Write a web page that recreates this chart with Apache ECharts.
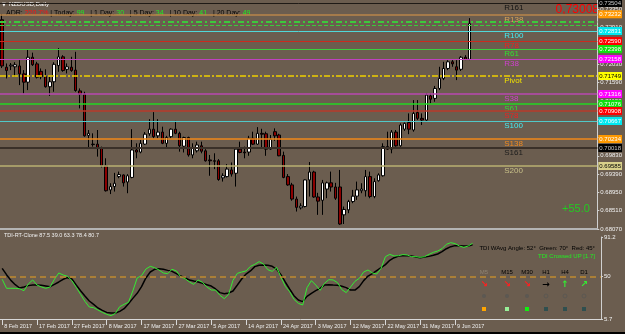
<!DOCTYPE html>
<html><head><meta charset="utf-8">
<script src="https://cdn.jsdelivr.net/npm/echarts@6/dist/echarts.min.js"></script>
<style>html,body{margin:0;padding:0;background:#6b5d4f;}#c{width:625px;height:334px;}</style>
</head><body><div id="c"></div>
<script>
// ---------- data ----------
const dateLabels = ['8 Feb 2017','17 Feb 2017','27 Feb 2017','8 Mar 2017','17 Mar 2017','27 Mar 2017','5 Apr 2017','14 Apr 2017','24 Apr 2017','3 May 2017','12 May 2017','22 May 2017','31 May 2017','9 Jun 2017'];
const opens = [0.7310,0.7196,0.7199,0.7197,0.7199,0.7180,0.7160,0.7220,0.7204,0.7186,
 0.7173,0.7149,0.7161,0.7200,0.7221,0.7191,0.7196,0.7189,0.7139,0.7131,
 0.7032,0.7011,0.7011,0.7003,0.6959,0.6901,0.6909,0.6933,0.6937,0.6920,
 0.6931,0.6997,0.6992,0.7011,0.7036,0.7047,0.7031,0.7040,0.7013,0.7029,
 0.7047,0.7037,0.7006,0.7027,0.6985,0.6995,0.7007,0.6995,0.6973,0.6971,
 0.6971,0.6930,0.6933,0.6949,0.6941,0.6999,0.6992,0.6992,0.7025,0.7011,
 0.7037,0.7036,0.6999,0.7041,0.7033,0.6984,0.6933,0.6913,0.6879,0.6858,
 0.6861,0.6925,0.6944,0.6884,0.6876,0.6903,0.6918,0.6908,0.6908,0.6841,
 0.6853,0.6873,0.6886,0.6899,0.6899,0.6933,0.6885,0.6923,0.6935,0.7005,
 0.6999,0.7040,0.7007,0.7047,0.7063,0.7045,0.7087,0.7073,0.7069,0.7127,
 0.7121,0.7145,0.7169,0.7193,0.7209,0.7197,0.7191,0.7220,0.7215];
const highs = [0.7324,0.7205,0.7206,0.7208,0.7213,0.7189,0.7239,0.7231,0.7209,0.7193,
 0.7191,0.7173,0.7208,0.7242,0.7225,0.7205,0.7221,0.7233,0.7145,0.7137,
 0.7045,0.7037,0.7045,0.7005,0.6977,0.6917,0.6942,0.6945,0.6938,0.6939,
 0.7047,0.7013,0.7021,0.7040,0.7071,0.7088,0.7071,0.7053,0.7031,0.7049,
 0.7067,0.7041,0.7029,0.7029,0.7013,0.7017,0.7017,0.6999,0.6985,0.6989,
 0.6975,0.6941,0.6963,0.6967,0.7001,0.7017,0.7005,0.7031,0.7041,0.7052,
 0.7048,0.7041,0.7033,0.7049,0.7036,0.6993,0.6939,0.6918,0.6885,0.6869,
 0.6926,0.6968,0.6947,0.6894,0.6925,0.6921,0.6945,0.6918,0.6949,0.6861,
 0.6877,0.6901,0.6921,0.6917,0.6949,0.6945,0.6929,0.6941,0.7013,0.7041,
 0.7045,0.7045,0.7061,0.7063,0.7085,0.7117,0.7117,0.7085,0.7134,0.7133,
 0.7151,0.7197,0.7209,0.7213,0.7215,0.7213,0.7223,0.7225,0.7314];
const lows = [0.7194,0.7169,0.7189,0.7173,0.7153,0.7133,0.7141,0.7199,0.7169,0.7167,
 0.7147,0.7127,0.7137,0.7185,0.7185,0.7181,0.7185,0.7137,0.7097,0.7029,
 0.7001,0.7005,0.6981,0.6955,0.6897,0.6891,0.6897,0.6929,0.6909,0.6893,
 0.6929,0.6977,0.6989,0.7009,0.7031,0.7025,0.7025,0.7011,0.7001,0.7025,
 0.7035,0.6993,0.6991,0.6981,0.6977,0.6991,0.6989,0.6969,0.6935,0.6951,
 0.6923,0.6921,0.6931,0.6933,0.6909,0.6989,0.6977,0.6983,0.7009,0.7009,
 0.7001,0.6983,0.6997,0.7019,0.6982,0.6929,0.6911,0.6875,0.6849,0.6854,
 0.6859,0.6885,0.6882,0.6841,0.6841,0.6881,0.6897,0.6877,0.6817,0.6819,
 0.6845,0.6869,0.6877,0.6893,0.6885,0.6881,0.6881,0.6921,0.6933,0.6997,
 0.6989,0.7005,0.7005,0.7043,0.7035,0.7041,0.7069,0.7057,0.7067,0.7109,
 0.7113,0.7141,0.7165,0.7189,0.7197,0.7165,0.7187,0.7213,0.7213];
const closes = [0.7199,0.7188,0.7201,0.7202,0.7180,0.7160,0.7220,0.7202,0.7172,0.7173,
 0.7149,0.7161,0.7203,0.7221,0.7188,0.7197,0.7188,0.7140,0.7131,0.7031,
 0.7037,0.7010,0.7003,0.6959,0.6899,0.6909,0.6917,0.6938,0.6918,0.6935,
 0.6997,0.6992,0.7013,0.7035,0.7047,0.7029,0.7040,0.7013,0.7027,0.7047,
 0.7037,0.7007,0.7027,0.6985,0.7001,0.7009,0.6994,0.6971,0.6971,0.6970,
 0.6926,0.6935,0.6951,0.6939,0.6999,0.6991,0.6990,0.7025,0.7011,0.7037,
 0.7035,0.6999,0.7023,0.7031,0.6983,0.6931,0.6913,0.6879,0.6859,0.6862,
 0.6925,0.6944,0.6884,0.6874,0.6918,0.6918,0.6908,0.6881,0.6819,0.6854,
 0.6873,0.6886,0.6901,0.6903,0.6933,0.6885,0.6921,0.6937,0.7005,0.6999,
 0.7040,0.7007,0.7057,0.7061,0.7047,0.7085,0.7073,0.7069,0.7129,0.7119,
 0.7145,0.7169,0.7193,0.7209,0.7204,0.7189,0.7220,0.7215,0.73008];
const tdiGreen = [47.1,37.7,37.7,37.7,37.3,35.2,42.2,46.4,41.1,39.1,
 37.7,39.1,47.1,53.7,51.6,50.2,45.7,38.7,31.4,24.1,
 18.2,17.5,15.1,12.6,10.6,9.2,11.6,18.6,21.0,23.1,
 34.9,48.5,50.9,57.8,60.6,59.2,56.8,53.7,53.0,57.5,
 55.8,49.5,47.8,44.3,41.8,46.4,43.9,39.1,35.9,35.9,
 30.4,26.9,31.4,46.0,53.3,54.7,55.8,60.6,62.7,65.5,
 63.0,57.1,55.4,59.6,49.5,39.8,34.2,26.2,22.0,20.3,
 38.4,45.7,41.1,35.6,42.9,46.7,46.4,43.6,36.3,33.2,
 39.1,45.0,48.1,54.7,56.8,53.7,52.6,58.5,70.7,73.1,
 71.4,71.7,72.8,72.4,70.7,70.7,70.0,70.7,73.1,75.2,
 76.6,79.0,83.6,85.3,84.3,81.8,80.4,81.8,84.6];
const tdiSignal = [58.5,51.9,46.0,41.5,38.0,39.1,40.5,41.1,41.1,40.8,
 40.1,39.4,41.8,44.3,47.1,48.8,47.4,41.1,35.2,29.7,
 24.5,21.0,17.2,14.7,12.6,12.0,12.0,13.7,16.5,21.7,
 27.2,32.5,39.4,48.5,54.7,57.5,58.2,57.5,56.4,55.4,
 53.0,50.5,48.5,46.4,45.3,44.3,42.9,41.5,40.1,37.0,
 33.2,32.1,32.8,34.9,41.1,47.4,52.6,55.8,60.3,61.7,
 62.0,61.7,60.6,57.8,51.9,44.3,37.0,30.0,25.5,23.8,
 29.3,32.5,35.2,37.7,41.1,41.5,41.1,40.8,39.8,38.4,
 35.9,35.9,39.4,45.7,50.5,53.0,56.1,59.2,62.4,66.9,
 69.6,71.4,71.7,71.7,71.4,70.3,69.6,70.3,71.0,72.1,
 73.5,75.9,79.0,81.1,82.2,82.2,81.8,81.8,83.2];
const priceTicks = [0.6807,0.6851,0.6895,0.6939,0.6983,0.7027,0.7071,0.7115,0.7159,0.7203,0.7247,0.7291,0.7335];
const tdiTicks = [91.2, 50, 5.7];
const tdiMid = [50];
const levelNames = ['R161','R138','R100','R78','R61','R38','Pivot','S38','S61','S78','S100','S138','S161','S200'];
const levelValues = [0.73504,0.73232,0.72831,0.72590,0.72398,0.72158,0.71749,0.71316,0.71076,0.70908,0.70667,0.70234,0.70018,0.69585];
const adrLines = [0.73064, 0.72975];
const adrStats = [['Today',99],['1 Day',30],['5 Day',34],['10 Day',41],['20 Day',49]];
const adrPct = '220.7%';
const tdiHeader = 'TDI-RT-Clone 87.5 39.0 63.3 78.4 80.7';
const tdiAngle = 'TDI WAvg Angle: 52°  Green: 70°  Red: 45°';
const tdiCross = 'TDI Crossed UP [1.7]';
const pipsText = '+55.0';
const tfNames = ['M5','M15','M30','H1','H4','D1'];
const tfArrows = ['↘','↘','↘','→','↑','↗'];

// ---------- styles ----------
const FONT = 'Liberation Sans';
const lineColors = ['#1e1a16','#b8864a','#4fd8d8','#cc2a1e','#3ad03a','#c040c0','#f0d000','#b848b0','#22d822','#b83a2a','#50c8c8','#f08818','#3a3028','#b8b070'];
const lineWidths = [1,1.5,1,1,1.2,1.2,1.5,1.5,1.5,1.5,1.2,1.5,2,1.5];
const textColors = ['#141414','#d6a45a','#40f0f8','#f02020','#30e030','#d040d0','#f0e000','#d040d0','#30e030','#f02020','#40f0f8','#f08a20','#1c1c1c','#c8c088'];
const boxColors = ['#000000','#ff9900','#00e8f0','#ff0000','#10e010','#ff00ff','#ffff00','#ff00ff','#10e010','#ff0000','#00e8f0','#ff9900','#000000','#d8d08a'];
const boxText = ['#c8c8c8','#ffffff','#ffffff','#ffffff','#ffffff','#ffffff','#000000','#ffffff','#ffffff','#ffffff','#ffffff','#ffffff','#c8c8c8','#000000'];
const tfLabelColors = ['#8f8474','#000','#000','#000','#000','#000'];
const tfArrowColors = ['#ff2020','#ff2020','#ff2020','#000000','#33ee33','#33ee33'];
const tfSquareColors = ['#ffa500','#98f098','#10f010','#2f4f4f','#2f4f4f','#2f4f4f'];
const tfX = [484,507,527,546,565,584];

const nSlots = 138;
const labelSlot = 116;
const dateEvery = 8;
const cats = Array.from({length:nSlots}, (_, i) => String(i));
const showDate = i => i % dateEvery === 0 && i / dateEvery < dateLabels.length;
const candle = opens.map((o, i) => [o, closes[i], lows[i], highs[i]]);

const levelMarks = levelValues.map((v, i) => ({
  yAxis: v,
  lineStyle: {color: lineColors[i], width: lineWidths[i], type: levelNames[i] === 'Pivot' ? [6,2,2,2] : 'solid'},
  label: {show: true, position: 'end', distance: 1, formatter: p => Number(p.value).toFixed(5),
    backgroundColor: boxColors[i], color: boxText[i], fontSize: 6, fontFamily: FONT, padding: [1,1,1,1]}
}));
levelMarks.push({yAxis: adrLines[0], lineStyle: {color: '#3cc83c', width: 2, type: [6,3,2,3]}, label: {show: false}});
levelMarks.push({yAxis: adrLines[1], lineStyle: {color: '#3cc83c', width: 1, type: [4,2]}, label: {show: false}});
levelMarks.push({yAxis: closes[closes.length-1], lineStyle: {opacity: 0}, label: {show: true, position: 'end', distance: 1,
  formatter: p => Number(p.value).toFixed(5), backgroundColor: '#ffffff', color: '#000000', fontSize: 6, fontFamily: FONT, padding: [1,1,1,1]}});

const adrRich = '{k|ADR: }{r|' + adrPct + '}' + adrStats.map(s => '{k| | ' + s[0] + ': }{g|' + s[1] + '}{k|  }').join('');

const graphics = [
  {type:'text', left: 2, top: 2, style:{text:'▼', fill:'#ffffff', font:'5px DejaVu Sans'}},
  {type:'text', left: 9, top: 1, style:{text:'NZDUSD,Daily', fill:'#ffffff', font:'6px ' + FONT}},
  {type:'text', left: 6, top: 10, style:{text: adrRich, font:'7px ' + FONT,
     rich:{k:{fill:'#000000', fontSize:7, fontFamily:FONT}, r:{fill:'#ff1010', fontSize:7, fontFamily:FONT}, g:{fill:'#20ee20', fontSize:7, fontFamily:FONT}}}},
  {type:'text', right: 26, top: 4, style:{text: closes[closes.length-1].toFixed(5).replace('.', ','), fill:'#ff0000', font:'12px ' + FONT}},
  {type:'text', left: 562, top: 203, style:{text: pipsText, fill:'#22cc22', font:'11px ' + FONT}},
  {type:'text', left: 4, top: 232, style:{text: tdiHeader, fill:'#f0f0f0', font:'5.5px ' + FONT}},
  {type:'text', right: 30, top: 245, style:{text: tdiAngle, fill:'#000000', font:'6px ' + FONT}},
  {type:'text', right: 30, top: 253, style:{text: tdiCross, fill:'#22ee22', font:'6px ' + FONT}},
  {type:'rect', left: 0, top: 332, shape:{width:625, height:2}, style:{fill:'#000000'}}
];
tfNames.forEach((n, i) => {
  graphics.push({type:'text', x: tfX[i], y: 272.5, style:{text: n, fill: tfLabelColors[i], font:'6px ' + FONT, align:'center', verticalAlign:'middle'}});
  graphics.push({type:'text', x: tfX[i], y: 285, style:{text: tfArrows[i], fill: tfArrowColors[i], font:'bold 9px DejaVu Sans', align:'center', verticalAlign:'middle'}});
  graphics.push({type:'circle', shape:{cx: tfX[i], cy: 296, r: 2}, style:{fill: i < 3 ? '#5c5852' : 'none', stroke: i < 3 ? 'none' : '#5c5852', lineWidth: 1}});
  graphics.push({type:'rect', shape:{x: tfX[i]-2, y: 307, width: 4, height: 4}, style:{fill: tfSquareColors[i]}});
});

const chart = echarts.init(document.getElementById('c'), null, {renderer:'canvas', width:625, height:334});
chart.setOption({
  backgroundColor: '#6b5d4f',
  animation: false,
  grid: [{left:0, right:24, top:0, height:229}, {left:0, right:24, top:237, height:82}],
  xAxis: [
    {type:'category', gridIndex:0, data:cats, boundaryGap:true,
     axisLine:{show:true, lineStyle:{color:'#b4b4b4', width:2}}, axisTick:{show:false}, axisLabel:{show:false}},
    {type:'category', gridIndex:1, data:cats, boundaryGap:true,
     axisLine:{show:true, lineStyle:{color:'#d8d8d8'}},
     axisTick:{show:true, alignWithLabel:true, interval:(i) => showDate(i), length:6, lineStyle:{color:'#d8d8d8'}},
     axisLabel:{interval:(i) => showDate(i), formatter:(v, i) => showDate(i) ? dateLabels[i / dateEvery] : '',
       color:'#eeeeee', fontSize:5.5, fontFamily:FONT, align:'left', margin:4, padding:[0,0,0,2]}}
  ],
  yAxis: [
    {type:'value', gridIndex:0, position:'right', min:0.6807, max:0.73576, splitLine:{show:false},
     axisLine:{show:true, lineStyle:{color:'#d0d0d0'}},
     axisTick:{show:true, customValues: priceTicks, length:2, lineStyle:{color:'#d0d0d0'}},
     axisLabel:{customValues: priceTicks, formatter: v => v.toFixed(5), color:'#f2f2f2', fontSize:6, fontFamily:FONT, margin:3}},
    {type:'value', gridIndex:1, position:'right', min:5.7, max:91.2, splitLine:{show:false},
     axisLine:{show:true, lineStyle:{color:'#d0d0d0'}},
     axisTick:{show:true, customValues: tdiTicks, length:2, lineStyle:{color:'#d0d0d0'}},
     axisLabel:{customValues: tdiTicks, formatter: v => String(v), color:'#f2f2f2', fontSize:6, fontFamily:FONT, margin:3}}
  ],
  series: [
    {type:'candlestick', xAxisIndex:0, yAxisIndex:0, data:candle, barWidth:3,
     itemStyle:{color:'#ffffff', color0:'#8b0000', borderColor:'#000000', borderColor0:'#000000', borderWidth:1},
     markLine:{silent:true, precision:5, symbol:['none','none'], animation:false, data: levelMarks}},
    {type:'custom', xAxisIndex:0, yAxisIndex:0, silent:true, clip:false,
     data: levelValues.map((v, i) => [labelSlot, v, i]),
     renderItem: (params, api) => {
       const i = api.value(2);
       const pt = api.coord([api.value(0), api.value(1)]);
       return {type:'text', x: pt[0], y: pt[1] + 5,
         style:{text: levelNames[i], fill: textColors[i], font: '8px ' + FONT, align:'left', verticalAlign:'middle'}};
     }},
    {type:'line', xAxisIndex:1, yAxisIndex:1, data: tdiSignal, showSymbol:false, silent:true,
     lineStyle:{color:'#000000', width:1.5}},
    {type:'line', xAxisIndex:1, yAxisIndex:1, data: tdiGreen, showSymbol:false, silent:true,
     lineStyle:{color:'#33ee33', width:1},
     markLine:{silent:true, symbol:['none','none'], label:{show:false},
       data: tdiMid.map(v => ({yAxis: v})), lineStyle:{color:'#c08a30', width:1.5, type:[6,4]}}}
  ],
  graphic: graphics
});
</script>
</body></html>
